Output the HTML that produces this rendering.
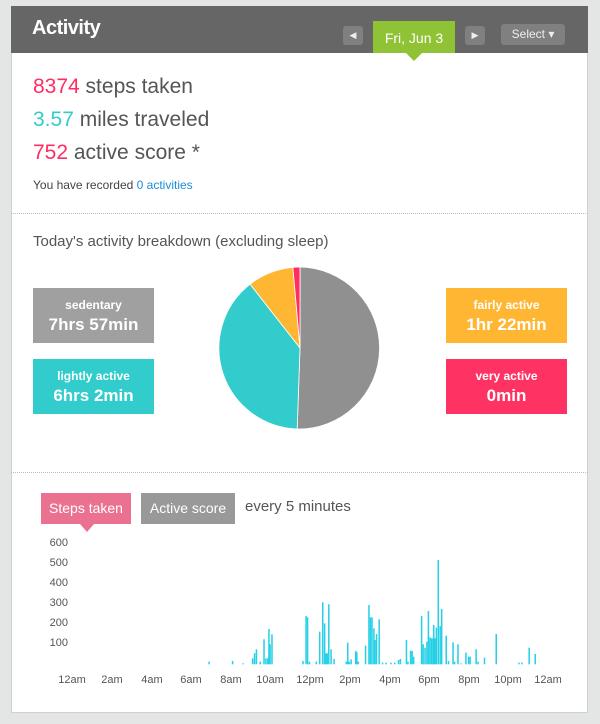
<!DOCTYPE html>
<html><head><meta charset="utf-8"><style>
*{margin:0;padding:0;box-sizing:border-box}
body{width:600px;height:724px;background:#e4e6e5;font-family:"Liberation Sans",sans-serif;position:relative;overflow:hidden}
.card{position:absolute;left:11px;top:6px;width:577px;height:707px;background:#fff;border:1px solid #cfd1d0}
.a{position:absolute}
.hdr{left:11px;top:6px;width:577px;height:47px;background:#666}
.btn{background:#808080;border-radius:3px;color:#eee;font-size:12px;text-align:center}
.big{font-size:21px;color:#555;left:33px}
.box{color:#fff;text-align:center;font-weight:bold;width:121px;height:55px}
.box .s{font-size:12px;margin-top:10px}
.box .l{font-size:17px;margin-top:3px}
.dot{left:11px;width:577px;border-top:1px dotted #bbb;height:0}
.yl{font-size:11px;color:#555;left:44px;width:24px;text-align:right}
.xl{font-size:11px;color:#555;top:674px;width:40px;text-align:center}
</style></head><body>
<div class="card"></div>
<div class="a hdr"></div>
<div class="a" style="left:32px;top:17px;color:#fff;font-size:20px;font-weight:bold;letter-spacing:-0.5px">Activity</div>
<div class="a btn" style="left:343px;top:26px;width:20px;height:19px;line-height:19px;font-size:9px">◀</div>
<div class="a" style="left:373px;top:21px;width:82px;height:32px;background:#8fc234;color:#fff;font-size:14px;line-height:34px;text-align:center">Fri, Jun 3</div>
<div class="a" style="left:406px;top:53px;width:0;height:0;border-left:8px solid transparent;border-right:8px solid transparent;border-top:8px solid #8fc234"></div>
<div class="a btn" style="left:465px;top:26px;width:20px;height:19px;line-height:19px;font-size:9px">▶</div>
<div class="a btn" style="left:501px;top:24px;width:64px;height:21px;line-height:21px">Select ▾</div>

<div class="a big" style="top:75px"><span style="color:#ff2d62">8374</span> steps taken</div>
<div class="a big" style="top:108px"><span style="color:#33cccc">3.57</span> miles traveled</div>
<div class="a big" style="top:141px"><span style="color:#ff2d62">752</span> active score *</div>
<div class="a" style="left:33px;top:178px;font-size:12px;color:#444">You have recorded <span style="color:#1a8ed6">0 activities</span></div>
<div class="a dot" style="top:213px"></div>

<div class="a" style="left:33px;top:233px;font-size:15px;color:#555">Today's activity breakdown (excluding sleep)</div>
<div class="a box" style="left:33px;top:288px;background:#a0a0a0"><div class="s">sedentary</div><div class="l">7hrs 57min</div></div>
<div class="a box" style="left:33px;top:359px;background:#33cccc"><div class="s">lightly active</div><div class="l">6hrs 2min</div></div>
<div class="a box" style="left:446px;top:288px;background:#ffb733"><div class="s">fairly active</div><div class="l">1hr 22min</div></div>
<div class="a box" style="left:446px;top:359px;background:#ff3264"><div class="s">very active</div><div class="l">0min</div></div>
<svg class="a" style="left:0;top:0" width="600" height="724">
<g stroke="#fff" stroke-width="0.8">
<path d="M300,348 L300,267 A81,81 0 0 1 297.2,429 Z" fill="#909090"/>
<path d="M300,348 L297.2,429 A81,81 0 0 1 250.1,284.2 Z" fill="#33cccc"/>
<path d="M300,348 L250.1,284.2 A81,81 0 0 1 292.9,267.3 Z" fill="#ffb733"/>
<path d="M300,348 L292.9,267.3 A81,81 0 0 1 300,267 Z" fill="#ff2d62"/>
</g>
<g transform="translate(0,480) scale(0.3788,0.3333)" fill="#26d0e6">
<rect x="550" y="545" width="4" height="8"/><rect x="612" y="543" width="4" height="10"/><rect x="640" y="550" width="4" height="3"/><rect x="665" y="535" width="4" height="18"/><rect x="670" y="520" width="4" height="33"/><rect x="675" y="508" width="4" height="45"/><rect x="685" y="545" width="4" height="8"/><rect x="695" y="478" width="4" height="75"/><rect x="700" y="535" width="4" height="18"/><rect x="705" y="535" width="4" height="18"/><rect x="708" y="447" width="4" height="106"/><rect x="711" y="493" width="4" height="60"/><rect x="716" y="463" width="4" height="90"/>
<rect x="798" y="543" width="4" height="10"/><rect x="806" y="408" width="4" height="145"/><rect x="810" y="412" width="4" height="141"/><rect x="815" y="545" width="4" height="8"/><rect x="833" y="545" width="4" height="8"/><rect x="842" y="455" width="4" height="98"/><rect x="850" y="367" width="4" height="186"/><rect x="855" y="430" width="4" height="123"/><rect x="858" y="520" width="4" height="33"/><rect x="862" y="520" width="4" height="33"/><rect x="866" y="373" width="4" height="180"/><rect x="872" y="508" width="4" height="45"/><rect x="880" y="537" width="4" height="16"/>
<rect x="912" y="545" width="4" height="8"/><rect x="916" y="488" width="4" height="65"/><rect x="920" y="545" width="4" height="8"/><rect x="925" y="538" width="4" height="15"/><rect x="937" y="513" width="4" height="40"/><rect x="940" y="517" width="4" height="36"/><rect x="944" y="545" width="4" height="8"/><rect x="963" y="497" width="4" height="56"/><rect x="972" y="375" width="4" height="178"/><rect x="976" y="412" width="4" height="141"/><rect x="980" y="412" width="4" height="141"/><rect x="985" y="445" width="4" height="108"/><rect x="988" y="480" width="4" height="73"/><rect x="992" y="462" width="4" height="91"/><rect x="999" y="418" width="4" height="135"/><rect x="1008" y="548" width="4" height="5"/><rect x="1017" y="548" width="4" height="5"/><rect x="1030" y="548" width="4" height="5"/><rect x="1040" y="548" width="4" height="5"/><rect x="1050" y="540" width="4" height="13"/><rect x="1055" y="537" width="4" height="16"/><rect x="1071" y="480" width="4" height="73"/><rect x="1075" y="545" width="4" height="8"/><rect x="1082" y="512" width="4" height="41"/><rect x="1086" y="513" width="4" height="40"/><rect x="1090" y="530" width="4" height="23"/>
<rect x="1111" y="408" width="4" height="145"/><rect x="1115" y="493" width="4" height="60"/><rect x="1120" y="503" width="4" height="50"/><rect x="1125" y="485" width="4" height="68"/><rect x="1129" y="393" width="4" height="160"/><rect x="1133" y="472" width="4" height="81"/><rect x="1137" y="475" width="4" height="78"/><rect x="1141" y="475" width="4" height="78"/><rect x="1143" y="435" width="4" height="118"/><rect x="1147" y="475" width="4" height="78"/><rect x="1150" y="443" width="4" height="110"/><rect x="1155" y="240" width="4" height="313"/><rect x="1160" y="438" width="4" height="115"/><rect x="1164" y="387" width="4" height="166"/><rect x="1176" y="467" width="4" height="86"/><rect x="1182" y="543" width="4" height="10"/><rect x="1194" y="487" width="4" height="66"/><rect x="1198" y="545" width="4" height="8"/><rect x="1207" y="493" width="4" height="60"/><rect x="1215" y="550" width="4" height="3"/><rect x="1228" y="518" width="4" height="35"/><rect x="1235" y="530" width="4" height="23"/><rect x="1239" y="530" width="4" height="23"/><rect x="1255" y="508" width="4" height="45"/><rect x="1260" y="545" width="4" height="8"/><rect x="1277" y="533" width="4" height="20"/><rect x="1308" y="462" width="4" height="91"/><rect x="1368" y="548" width="4" height="5"/><rect x="1376" y="548" width="4" height="5"/><rect x="1395" y="503" width="4" height="50"/><rect x="1411" y="522" width="4" height="31"/>
</g>
</svg>
<div class="a dot" style="top:472px"></div>

<div class="a" style="left:41px;top:493px;width:90px;height:31px;background:#ea7290;color:#fff;font-size:14px;line-height:31px;text-align:center">Steps taken</div>
<div class="a" style="left:80px;top:524px;width:0;height:0;border-left:7px solid transparent;border-right:7px solid transparent;border-top:8px solid #ea7290"></div>
<div class="a" style="left:141px;top:493px;width:94px;height:31px;background:#999;color:#fff;font-size:14px;line-height:31px;text-align:center">Active score</div>
<div class="a" style="left:245px;top:498px;font-size:15px;color:#555">every 5 minutes</div>

<div class="a yl" style="top:537px">600</div>
<div class="a yl" style="top:557px">500</div>
<div class="a yl" style="top:577px">400</div>
<div class="a yl" style="top:597px">300</div>
<div class="a yl" style="top:617px">200</div>
<div class="a yl" style="top:637px">100</div>
<div class="a xl" style="left:52px">12am</div>
<div class="a xl" style="left:92px">2am</div>
<div class="a xl" style="left:132px">4am</div>
<div class="a xl" style="left:171px">6am</div>
<div class="a xl" style="left:211px">8am</div>
<div class="a xl" style="left:250px">10am</div>
<div class="a xl" style="left:290px">12pm</div>
<div class="a xl" style="left:330px">2pm</div>
<div class="a xl" style="left:370px">4pm</div>
<div class="a xl" style="left:409px">6pm</div>
<div class="a xl" style="left:449px">8pm</div>
<div class="a xl" style="left:488px">10pm</div>
<div class="a xl" style="left:528px">12am</div>
</body></html>
